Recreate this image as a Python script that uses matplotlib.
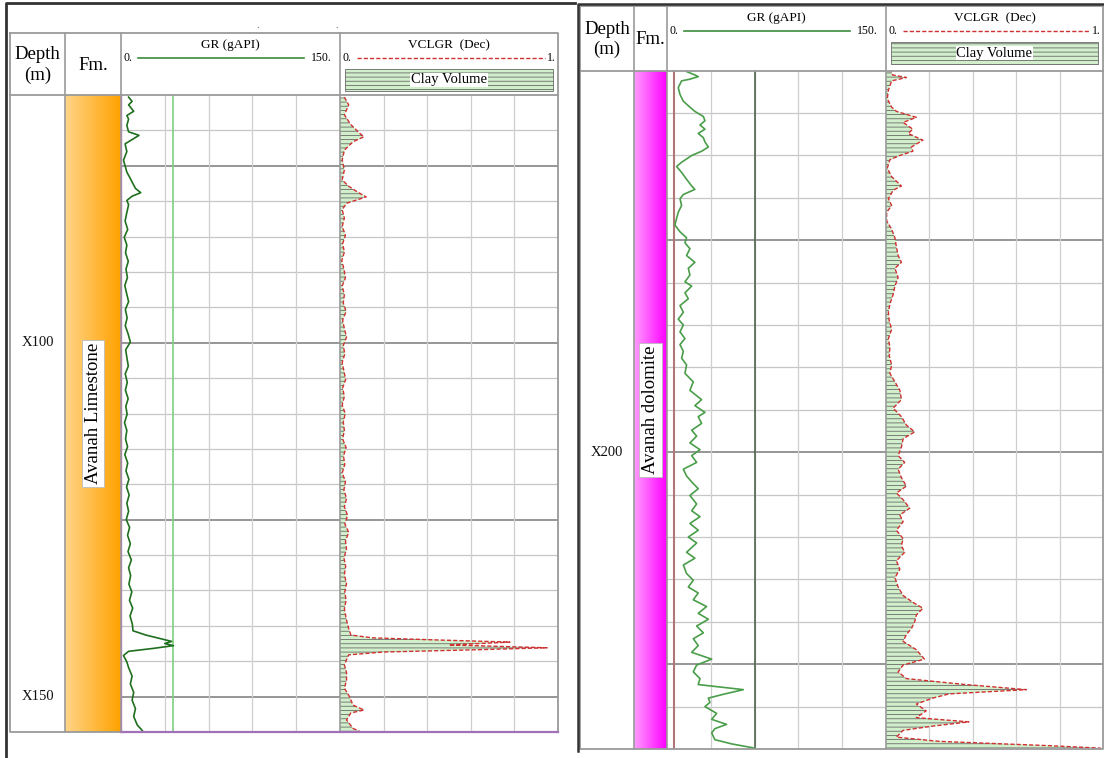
import numpy as np
import matplotlib.pyplot as plt
from matplotlib.colors import LinearSegmentedColormap
from matplotlib.patches import Rectangle
from matplotlib.transforms import blended_transform_factory

plt.rcParams["font.family"] = ["Liberation Serif", "DejaVu Serif"]
plt.rcParams["hatch.linewidth"] = 0.6

# ---- left well: Avanah Limestone, X65 - X155 m ----
left_gr_depth = [65.3, 65.9, 66.4, 67.3, 67.9, 68.4, 69.3, 70.2, 70.7, 71.3, 71.9, 73.0,
                 74.2, 75.0, 75.9, 76.8, 77.3, 78.2, 78.8, 79.3, 79.9, 80.5, 81.6, 82.8,
                 84.0, 85.1, 86.2, 87.3, 88.5, 89.6, 90.8, 91.9, 93.0, 94.2,
                 95.3, 96.5, 97.6, 98.7, 99.9, 101.0, 102.2, 103.3, 104.4, 105.6,
                 106.7, 107.9, 109.0, 110.1, 111.3, 112.4, 113.6, 114.7, 115.8, 117.0,
                 118.1, 119.3, 120.4, 121.5, 122.7, 123.8, 125.0, 126.1, 127.2, 128.4,
                 129.5, 130.7, 131.8, 132.9, 134.1, 135.2, 136.4, 137.5, 138.6, 139.8,
                 140.7, 141.3, 141.9, 142.2, 142.5, 142.8, 143.2, 143.6, 144.2, 145.1,
                 145.9, 147.1, 148.2, 149.4, 150.5, 151.7, 152.8, 154.0, 154.8]
left_gr = [5.2, 7.6, 5.2, 8.7, 4.0, 5.2, 4.0, 5.2, 12.3, 7.6, 2.8, 4.0,
           1.7, 2.8, 4.0, 6.4, 7.6, 9.9, 13.5, 7.6, 4.0, 5.2, 4.0, 2.8,
           4.6, 2.2, 4.0, 3.1, 5.0, 3.4, 4.4, 2.6, 3.8, 5.2,
           3.0, 4.2, 2.9, 4.8, 6.4, 3.2, 4.1, 5.0, 2.9, 4.3,
           3.0, 4.9, 3.3, 4.2, 2.4, 4.0, 3.1, 4.5, 2.6, 4.6,
           3.4, 5.4, 3.8, 5.6, 4.0, 5.2, 3.6, 5.9, 4.5, 6.4,
           4.8, 7.1, 5.2, 6.6, 5.4, 7.4, 5.8, 8.0, 6.2, 7.8,
           8.2, 17.0, 28.8, 34.7, 30.0, 35.9, 21.7, 5.2, 1.7, 4.0,
           5.2, 7.6, 6.4, 8.7, 7.6, 9.9, 8.7, 11.1, 14.6]

left_vcl_depth = [65.3, 66.4, 67.8, 69.2, 70.4, 70.9, 71.6, 72.8, 74.2, 75.6, 77.0, 77.9,
                  78.7, 79.4, 80.3, 81.2,
                  82.4, 83.6, 84.8, 86.0, 87.2, 88.4, 89.6, 90.8, 92.0, 93.2,
                  94.4, 95.6, 96.8, 98.0, 99.2, 100.4, 101.6, 102.8, 104.0, 105.2,
                  106.4, 107.6, 108.8, 110.0, 111.2, 112.4, 113.6, 114.8, 116.0, 117.2,
                  118.4, 119.6, 120.8, 122.0, 123.2, 124.4, 125.6, 126.8, 128.0, 129.2,
                  130.4, 131.6, 132.8, 134.0, 135.2, 136.4, 137.6,
                  139.2, 140.4, 141.3, 141.7, 142.0, 142.3, 142.7, 143.1, 143.4, 143.7,
                  144.1, 145.5, 146.6, 147.7, 148.8, 149.8, 151.2, 151.9, 152.3, 153.3,
                  154.5, 154.9]
left_vcl = [0.02, 0.04, 0.02, 0.05, 0.09, 0.11, 0.06, 0.02, 0.01, 0.02, 0.01, 0.04,
            0.08, 0.12, 0.03, 0.01,
            0.02, 0.01, 0.025, 0.012, 0.02, 0.008, 0.018, 0.025, 0.01, 0.02,
            0.015, 0.028, 0.012, 0.02, 0.03, 0.015, 0.022, 0.01, 0.018, 0.026,
            0.012, 0.02, 0.01, 0.024, 0.015, 0.02, 0.012, 0.028, 0.016, 0.022,
            0.01, 0.025, 0.018, 0.03, 0.02, 0.035, 0.022, 0.04, 0.025, 0.03,
            0.018, 0.026, 0.02, 0.03, 0.022, 0.028, 0.02,
            0.03, 0.04, 0.05, 0.15, 0.45, 0.78, 0.5, 0.95, 0.6, 0.2,
            0.04, 0.02, 0.03, 0.03, 0.02, 0.04, 0.06, 0.11, 0.05, 0.03,
            0.06, 0.09]

# ---- right well: Avanah dolomite, X155 - X235 m ----
right_gr_depth = [155.1, 155.5, 155.7, 156.0, 156.2, 157.0, 157.8, 158.6, 159.3, 159.8,
                  160.4, 160.9, 161.4, 161.9, 162.4, 162.9, 163.4, 164.0, 164.5, 165.0,
                  165.8, 166.3, 167.0, 167.8, 168.6, 169.0, 169.6, 170.1, 170.9, 171.7,
                  172.4, 173.2, 174.0, 174.7, 175.3, 176.0, 176.8, 177.6, 178.3, 179.1,
                  179.9, 180.4, 181.2, 181.9, 182.7, 183.5, 184.3, 185.0, 185.8, 186.6,
                  187.3, 188.1, 188.9, 189.7, 190.7, 191.7, 192.7, 193.8, 194.5, 195.3,
                  195.8, 196.6, 197.4, 198.1, 198.9, 199.7, 200.4, 201.2, 202.0, 202.8,
                  203.5, 204.3, 205.1, 206.1, 206.9, 207.6, 208.4, 209.2, 210.0, 210.7,
                  211.8, 212.5, 213.3, 214.3, 215.1, 215.9, 216.6, 217.4, 218.2, 219.0,
                  219.7, 220.5, 221.3, 222.0, 222.8, 223.6, 224.4, 225.1, 225.9, 226.7,
                  227.4, 228.0, 228.5, 229.0, 229.5, 230.0, 230.8, 231.5, 232.1, 232.6,
                  233.1, 233.9, 234.4, 234.9]
right_gr = [13.4, 19.1, 21.4, 15.7, 10.0, 7.7, 8.9, 11.2, 15.7, 19.1,
            24.9, 26.0, 22.6, 26.0, 21.4, 24.9, 26.0, 28.3, 23.7, 16.9,
            10.0, 6.6, 10.0, 13.4, 16.9, 19.1, 11.2, 8.9, 10.0, 7.7,
            6.6, 5.4, 8.9, 13.4, 12.3, 15.7, 13.4, 19.1, 14.6, 15.7,
            12.3, 16.9, 12.3, 14.6, 8.9, 11.2, 7.7, 11.2, 8.9, 12.3,
            8.9, 11.2, 10.0, 13.4, 12.3, 18.0, 15.7, 23.7, 19.1, 26.0,
            21.4, 23.7, 16.9, 20.3, 15.7, 22.6, 16.9, 20.3, 11.2, 13.4,
            16.9, 21.4, 15.7, 20.3, 16.9, 22.6, 15.7, 21.4, 14.6, 20.3,
            13.4, 19.1, 11.2, 13.4, 18.0, 14.6, 21.4, 18.0, 27.1, 21.4,
            28.3, 20.3, 24.9, 18.0, 21.4, 16.9, 30.6, 20.3, 18.0, 22.6,
            21.4, 52.3, 39.7, 28.3, 29.4, 26.0, 34.0, 30.6, 40.8, 32.8,
            30.6, 32.8, 44.3, 60.2]

right_vcl_depth = [154.7, 155.5, 155.8, 156.2, 157.3, 158.3, 159.3, 159.8, 160.5, 161.1,
                   161.9, 162.4, 163.2, 164.0, 164.5, 165.0, 165.5, 166.5, 167.5, 168.6,
                   169.1, 170.1, 170.9, 171.7, 172.7, 173.7, 174.7, 175.8, 176.8, 177.6,
                   178.3, 179.4, 180.4, 181.4, 182.5, 183.5, 184.5, 185.5, 186.6, 187.6,
                   188.6, 189.7, 190.7, 191.7, 192.7, 193.8, 194.8, 195.8, 196.8, 197.6,
                   198.4, 199.4, 200.4, 201.2, 202.0, 203.0, 204.0, 204.8, 205.6, 206.6,
                   207.4, 208.2, 209.2, 210.2, 211.0, 211.8, 212.8, 213.8, 214.8, 215.9,
                   216.9, 217.7, 218.4, 219.2, 220.0, 220.8, 221.5, 222.3, 223.3, 224.4,
                   225.1, 225.9, 226.7, 227.4, 228.0, 228.5, 229.0, 229.7, 230.5, 231.3,
                   231.8, 232.3, 232.8, 233.6, 234.1, 234.6, 234.9]
right_vcl = [0.02, 0.03, 0.094, 0.026, 0.011, 0.006, 0.026, 0.048, 0.14, 0.079,
             0.124, 0.102, 0.17, 0.117, 0.124, 0.064, 0.018, 0.006, 0.026, 0.071,
             0.033, 0.011, 0.026, 0.003, 0.003, 0.026, 0.041, 0.048, 0.056, 0.071,
             0.041, 0.056, 0.041, 0.033, 0.018, 0.011, 0.015, 0.026, 0.011, 0.018,
             0.015, 0.026, 0.018, 0.041, 0.064, 0.071, 0.033, 0.071, 0.094, 0.132,
             0.079, 0.071, 0.056, 0.086, 0.056, 0.071, 0.094, 0.048, 0.079, 0.109,
             0.064, 0.079, 0.048, 0.079, 0.071, 0.086, 0.048, 0.064, 0.041, 0.056,
             0.079, 0.124, 0.17, 0.14, 0.132, 0.117, 0.094, 0.079, 0.14, 0.177,
             0.079, 0.056, 0.094, 0.367, 0.647, 0.291, 0.215, 0.14, 0.185, 0.14,
             0.382, 0.215, 0.079, 0.048, 0.245, 0.745, 0.99]

left_depth_marks = [100, 150]
right_depth_marks = [200]

W, H = 1104, 758
fig = plt.figure(figsize=(W / 100, H / 100), dpi=100)


def px_box(x0, y0, x1, y1):
    return [x0 / W, 1 - y1 / H, (x1 - x0) / W, (y1 - y0) / H]


def bare(ax):
    ax.set_xticks([])
    ax.set_yticks([])
    for s in ax.spines.values():
        s.set_visible(False)


def depth_grid(ax, top, base, xmax):
    for d in np.arange(top + 5, base, 5):
        major = d % 25 == 0
        ax.axhline(d, color="#8e8e8e" if major else "#c6c6c6",
                   lw=1.3 if major else 0.9, zorder=1)
    for k in range(1, 5):
        ax.axvline(xmax * k / 5, color="#cfcfcf", lw=0.9, zorder=1)


def panel(cols, y0, y1, top, base, gr_d, gr_v, vcl_d, vcl_v, gr_color,
          fm_name, fm_cmap, marks):
    xd, xf, xg, xv, xe = cols
    ax_d = fig.add_axes(px_box(xd, y0, xf, y1))
    bare(ax_d)
    ax_d.set_ylim(base, top)
    tr = blended_transform_factory(ax_d.transAxes, ax_d.transData)
    for m in marks:
        ax_d.text(0.5, m, f"X{m}", transform=tr, ha="center", va="center",
                  fontsize=10.5, color="#111")

    ax_f = fig.add_axes(px_box(xf, y0, xg, y1))
    bare(ax_f)
    ax_f.imshow(np.linspace(0, 1, 128)[None, :], cmap=fm_cmap, aspect="auto",
                extent=(0, 1, 0, 1))
    ax_f.set_xlim(0, 1)
    ax_f.set_ylim(0, 1)
    ax_f.text(0.5, 0.5, fm_name, rotation=90, ha="center", va="center",
              fontsize=13.5, bbox=dict(fc="white", ec="#bbbbbb", lw=0.6, pad=2))

    ax_g = fig.add_axes(px_box(xg, y0, xv, y1))
    bare(ax_g)
    ax_g.set_xlim(0, 150)
    ax_g.set_ylim(base, top)
    depth_grid(ax_g, top, base, 150)
    ax_g.plot(gr_v, gr_d, color=gr_color, lw=1.2, zorder=4)

    ax_v = fig.add_axes(px_box(xv, y0, xe, y1))
    bare(ax_v)
    ax_v.set_xlim(0, 1)
    ax_v.set_ylim(base, top)
    depth_grid(ax_v, top, base, 1)
    ax_v.fill_betweenx(vcl_d, 0, vcl_v, facecolor="#d2efcc", edgecolor="#6a6a6a",
                       hatch="----", linewidth=0, zorder=3)
    ax_v.plot(vcl_v, vcl_d, color="#d03030", lw=1.0, ls=(0, (3, 1.5)), zorder=4)
    return ax_g, ax_v


orange = LinearSegmentedColormap.from_list("fm1", ["#ffd488", "#ffa200"])
magenta = LinearSegmentedColormap.from_list("fm2", ["#ff9cff", "#ff00ff"])

L_cols = (10, 65, 121, 340, 558)
R_cols = (580, 634, 667, 886, 1103)

lg, lv = panel(L_cols, 95, 732, 65, 155, left_gr_depth, left_gr, left_vcl_depth, left_vcl,
               "#1f6f1f", "Avanah Limestone", orange, left_depth_marks)
lg.axvline(35.6, color="#7fcf7f", lw=1.2, zorder=2)

rg, rv = panel(R_cols, 70.7, 749, 155, 235, right_gr_depth, right_gr, right_vcl_depth,
               right_vcl, "#4a9e4a", "Avanah dolomite", magenta, right_depth_marks)
rg.axvline(60, color="#3f5a3f", lw=1.1, zorder=2)
rg.axvline(4.5, color="#b07676", lw=1.5, zorder=2)

# overlay in pixel coordinates for frames and headers
ov = fig.add_axes([0, 0, 1, 1], zorder=10)
ov.set_xlim(0, W)
ov.set_ylim(H, 0)
ov.axis("off")
ov.patch.set_alpha(0)


def header(cols, hy0, hy1, y1):
    xd, xf, xg, xv, xe = cols
    g = "#9a9a9a"
    ov.plot([xd, xe, xe, xd, xd], [hy0, hy0, y1, y1, hy0], color=g, lw=1.3)
    ov.plot([xd, xe], [hy1, hy1], color=g, lw=1.3)
    for x in (xf, xg, xv):
        ov.plot([x, x], [hy0, y1], color=g, lw=1.2)
    mid = (hy0 + hy1) / 2
    ov.text((xd + xf) / 2, mid + 1, "Depth\n(m)", ha="center", va="center",
            fontsize=13.5, linespacing=1.25)
    ov.text((xf + xg) / 2, mid + 1, "Fm.", ha="center", va="center", fontsize=13.5)
    ov.text((xg + xv) / 2, hy0 + 12, "GR (gAPI)", ha="center", va="center", fontsize=9.5)
    ov.text(xg + 7, hy0 + 25, "0.", ha="center", va="center", fontsize=8.5)
    ov.plot([xg + 17, xv - 36], [hy0 + 25, hy0 + 25], color="#3c8c3c", lw=1.2)
    ov.text(xv - 19, hy0 + 25, "150.", ha="center", va="center", fontsize=8.5)
    ov.text((xv + xe) / 2, hy0 + 12, "VCLGR  (Dec)", ha="center", va="center", fontsize=9.5)
    ov.text(xv + 7, hy0 + 25, "0.", ha="center", va="center", fontsize=8.5)
    ov.plot([xv + 17, xe - 13], [hy0 + 25, hy0 + 25], color="#d03030", lw=1.0,
            ls=(0, (3, 1.5)))
    ov.text(xe - 7, hy0 + 25, "1.", ha="center", va="center", fontsize=8.5)
    ov.add_patch(Rectangle((xv + 5, hy0 + 36), xe - xv - 10, 22, facecolor="#d2efcc",
                           edgecolor="#6a6a6a", hatch="----", lw=0.6))
    ov.text((xv + xe) / 2, hy0 + 47, "Clay Volume", ha="center", va="center",
            fontsize=10.5, bbox=dict(fc="white", ec="none", pad=0.5))


header(L_cols, 33, 95, 732)
header(R_cols, 6, 70.7, 749)

# bottom line under the left log tracks
ov.plot([121, 558], [732, 732], color="#a070b8", lw=1.6)
ov.plot([121, 121], [95, 732], color="#a88aa8", lw=1.0)

# outer frames
ov.plot([6, 6, 575], [758, 3, 3], color="#333333", lw=2.0)
ov.plot([578, 578, 1104], [751, 4, 4], color="#333333", lw=1.8)
ov.text(258, 26, ".", ha="center", va="center", fontsize=7, color="#555")
ov.text(337, 26, ".", ha="center", va="center", fontsize=7, color="#555")

fig.savefig("out.png", dpi=100)
